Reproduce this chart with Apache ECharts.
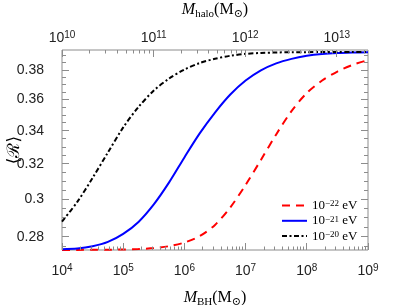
<!DOCTYPE html>
<html><head><meta charset="utf-8">
<script src="https://cdn.jsdelivr.net/npm/echarts@6/dist/echarts.min.js"></script>
<style>html,body{margin:0;padding:0;background:#fff}#c{width:407px;height:305px}</style>
</head><body><div id="c"></div>
<script>
// Black-hole mass grid (M_sun)
const massBH = [1e4, 1.778e4, 3.162e4, 5.623e4, 1e5, 1.778e5, 3.162e5, 5.623e5,
  1e6, 1.778e6, 3.162e6, 5.623e6, 1e7, 1.778e7, 3.162e7, 5.623e7,
  1e8, 1.778e8, 3.162e8, 5.623e8, 1e9];
// <R> for m = 1e-22 eV
const R_m22 = [0.27346, 0.27346, 0.27351, 0.27356, 0.27366, 0.27386, 0.27436, 0.27532,
  0.27713, 0.28045, 0.28625, 0.29557, 0.30798, 0.32238, 0.33779, 0.35253,
  0.36435, 0.37277, 0.37896, 0.38363, 0.38702];
// <R> for m = 1e-21 eV
const R_m21 = [0.27381, 0.27411, 0.27526, 0.27748, 0.28158, 0.28782, 0.29719, 0.30940,
  0.32387, 0.33840, 0.35156, 0.36335, 0.37277, 0.37979, 0.38469, 0.38786,
  0.39000, 0.39129, 0.39200, 0.39236, 0.39258];
// <R> for m = 1e-20 eV
const R_m20 = [0.28798, 0.29856, 0.31195, 0.32680, 0.34214, 0.35514, 0.36602, 0.37414,
  0.38035, 0.38490, 0.38793, 0.39007, 0.39143, 0.39207, 0.39243, 0.39258,
  0.39265, 0.39272, 0.39272, 0.39272, 0.39272];

const seriesNames = ['m22', 'm21', 'm20'];
const legendLabels = ['{a|10}{s|\u221222}{a| eV}', '{a|10}{s|\u221221}{a| eV}', '{a|10}{s|\u221220}{a| eV}'];

// axis ranges and tick labels
const X_MIN = 1e4, X_MAX = 1e9;
const HALO_MIN = 1e10, HALO_MAX = 2.19e13;
const Y_MIN = 0.2734, Y_MAX = 0.3942;
const bottomTicks = [1e4, 1e5, 1e6, 1e7, 1e8, 1e9];
const topTicks = [1e10, 1e11, 1e12, 1e13];
const yTicks = [0.28, 0.30, 0.32, 0.34, 0.36, 0.38];
const yMinorTicks = [0.275, 0.285, 0.29, 0.295, 0.305, 0.31, 0.315, 0.325, 0.33, 0.335,
  0.345, 0.35, 0.355, 0.365, 0.37, 0.375, 0.385, 0.39];

function logMinor(e0, e1, maxV) {
  const out = [];
  for (let e = e0; e <= e1; e++) for (let k = 2; k <= 9; k++) {
    const v = k * Math.pow(10, e);
    if (v <= maxV) out.push(v);
  }
  return out;
}
const bottomMinor = logMinor(4, 8, X_MAX);
const topMinor = logMinor(10, 13, HALO_MAX);

const gray = '#8c8c8c';
const txt = '#222';
const sans = 'Liberation Sans, Arial, Helvetica, sans-serif';
const serif = 'Liberation Serif, DejaVu Serif, serif';

const supRich = {
  a: {fontSize: 14, fontFamily: sans, color: txt, lineHeight: 17},
  s: {fontSize: 10, fontFamily: sans, color: txt, lineHeight: 5, verticalAlign: 'top'}
};
function supFmt(v) { return '{a|10}{s|' + Math.round(Math.log10(v)) + '}'; }

const titleRich = {
  i: {fontSize: 16, fontFamily: serif, fontStyle: 'italic', color: '#000', lineHeight: 20},
  n: {fontSize: 16, fontFamily: serif, color: '#000', lineHeight: 20},
  s: {fontSize: 11, fontFamily: serif, color: '#000', lineHeight: 9, verticalAlign: 'bottom'}
};

function px(v) { return Math.round(v - 0.5) + 0.5; }

// tick marks drawn through the axes' own scales
function xTickSeries(xi, vals, side, len) {
  return {
    type: 'custom', xAxisIndex: xi, yAxisIndex: 0, silent: true, clip: false, z: 4,
    data: vals.map(v => [v, Y_MIN]), encode: {x: 0, y: 1},
    renderItem: function (params, api) {
      const cs = params.coordSys;
      const x = px(api.coord([api.value(0), api.value(1)])[0]);
      const y0 = side === 'bottom' ? cs.y + cs.height : cs.y;
      const y1 = side === 'bottom' ? y0 - len : y0 + len;
      return {type: 'line', shape: {x1: x, y1: y0, x2: x, y2: y1}, style: {stroke: gray, lineWidth: 1}};
    }
  };
}
function yTickSeries(vals, side, len) {
  return {
    type: 'custom', xAxisIndex: 0, yAxisIndex: 0, silent: true, clip: false, z: 4,
    data: vals.map(v => [X_MIN, v]), encode: {x: 0, y: 1},
    renderItem: function (params, api) {
      const cs = params.coordSys;
      const y = px(api.coord([api.value(0), api.value(1)])[1]);
      const x0 = side === 'left' ? cs.x : cs.x + cs.width;
      const x1 = side === 'left' ? x0 + len : x0 - len;
      return {type: 'line', shape: {x1: x0, y1: y, x2: x1, y2: y}, style: {stroke: gray, lineWidth: 1}};
    }
  };
}

const noTick = {show: false};
const chart = echarts.init(document.getElementById('c'), null, {renderer: 'canvas'});
chart.setOption({
  animation: false,
  backgroundColor: '#fff',
  grid: {left: 62, right: 39, top: 50, bottom: 55, outerBoundsMode: 'none', containLabel: false,
    show: true, borderColor: gray, borderWidth: 1, backgroundColor: 'transparent'},
  legend: {
    orient: 'vertical', left: 281, top: 199, padding: 0, itemGap: 2.3,
    itemWidth: 25, itemHeight: 12, data: seriesNames,
    itemStyle: {opacity: 0},
    formatter: function (n) { return legendLabels[seriesNames.indexOf(n)]; },
    textStyle: {
      rich: {
        a: {fontSize: 13, fontFamily: serif, color: '#000', lineHeight: 12},
        s: {fontSize: 9, fontFamily: serif, color: '#000', lineHeight: 4, verticalAlign: 'top'}
      }
    }
  },
  xAxis: [
    {type: 'log', position: 'bottom', min: X_MIN, max: X_MAX,
      axisLine: {show: false, onZero: false}, axisTick: noTick, splitLine: {show: false},
      name: '{i|M}{s|BH}{n|(M}{s|\u2299}{n|)}', nameLocation: 'middle', nameGap: 38, nameMoveOverlap: false,
      nameTextStyle: {rich: titleRich},
      axisLabel: {show: true, margin: 13, customValues: bottomTicks, formatter: supFmt, rich: supRich}},
    {type: 'log', position: 'top', min: HALO_MIN, max: HALO_MAX,
      axisLine: {show: false, onZero: false}, axisTick: noTick, splitLine: {show: false},
      name: '{i|M}{s|halo}{n|(M}{s|\u2299}{n|)}', nameLocation: 'middle', nameGap: 30, nameMoveOverlap: false,
      nameTextStyle: {rich: titleRich},
      axisLabel: {show: true, margin: 3, customValues: topTicks, formatter: supFmt, rich: supRich}}
  ],
  yAxis: [
    {type: 'log', position: 'left', min: Y_MIN, max: Y_MAX,
      axisLine: {show: false, onZero: false}, axisTick: noTick, splitLine: {show: false},
      name: '\u27E8\u211B\u27E9', nameLocation: 'middle', nameGap: 39, nameMoveOverlap: false,
      nameTextStyle: {fontSize: 17, fontFamily: 'DejaVu Serif, serif', color: '#000'},
      axisLabel: {show: true, margin: 18, align: 'right', customValues: yTicks, fontSize: 14, fontFamily: sans, color: txt,
        formatter: function (v) { return String(Number(v.toFixed(2))); }}}
  ],
  series: [
    {name: 'm22', type: 'line', xAxisIndex: 0, yAxisIndex: 0, clip: false, smooth: 0.3, symbol: 'none', showSymbol: false,
      data: massBH.map((m, i) => [m, R_m22[i]]),
      lineStyle: {color: '#ff0000', width: 2, type: [8, 6]}, itemStyle: {color: '#ff0000'}},
    {name: 'm21', type: 'line', xAxisIndex: 0, yAxisIndex: 0, clip: false, smooth: 0.3, symbol: 'none', showSymbol: false,
      data: massBH.map((m, i) => [m, R_m21[i]]),
      lineStyle: {color: '#0000ff', width: 2, type: 'solid'}, itemStyle: {color: '#0000ff'}},
    {name: 'm20', type: 'line', xAxisIndex: 0, yAxisIndex: 0, clip: false, smooth: 0.3, symbol: 'none', showSymbol: false,
      data: massBH.map((m, i) => [m, R_m20[i]]),
      lineStyle: {color: '#000000', width: 2, type: [5, 2.5, 2, 2.5]}, itemStyle: {color: '#000000'}},
    xTickSeries(0, bottomTicks, 'bottom', 7),
    xTickSeries(0, bottomMinor, 'bottom', 3.5),
    xTickSeries(1, topTicks, 'top', 7),
    xTickSeries(1, topMinor, 'top', 3.5),
    yTickSeries(yTicks, 'left', 7),
    yTickSeries(yMinorTicks, 'left', 4),
    yTickSeries(yTicks, 'right', 7),
    yTickSeries(yMinorTicks, 'right', 4)
  ]
});
</script></body></html>
